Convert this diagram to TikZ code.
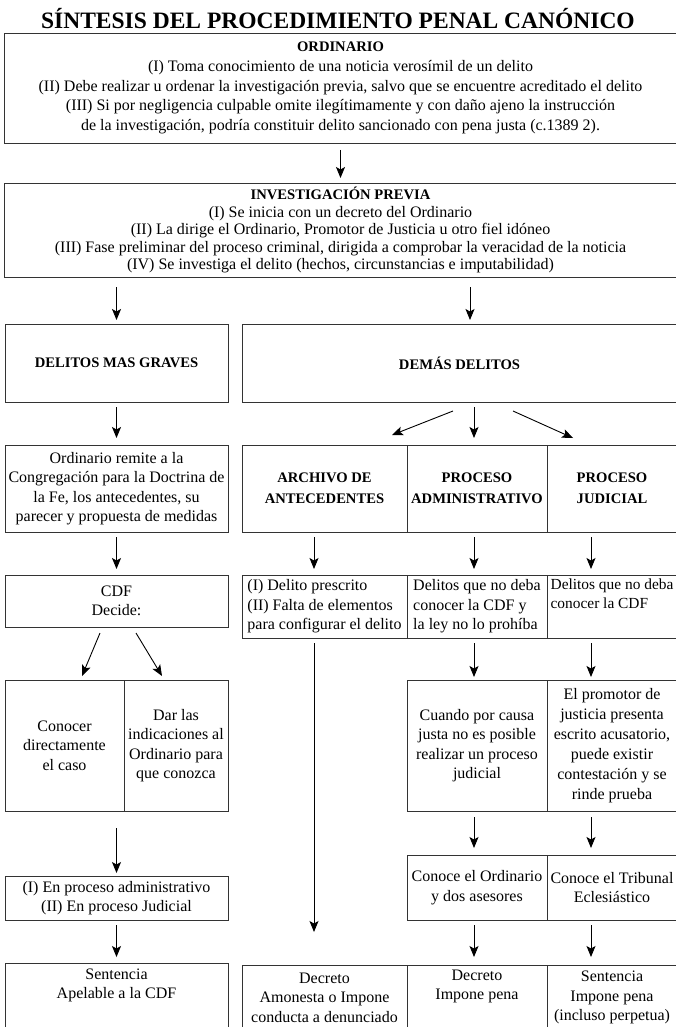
\documentclass[tikz,border=0pt]{standalone}
\usepackage{fontspec}
\setmainfont{Liberation Serif}
\usetikzlibrary{arrows.meta}

\newcommand{\cabeza}[1]{{\fontsize{14.6}{19.5}\selectfont\bfseries #1}}

\begin{document}
\begin{tikzpicture}[
x=1pt, y=-1pt,
every node/.style = {font=\fontsize{16}{19.5}\selectfont},
caja/.style = {draw=black!80, line width=0.9pt, align=center, inner sep=3pt, outer sep=0pt},
caja izq/.style = {caja, align=left, inner xsep=4pt},
negrita/.style = {font=\fontsize{14.6}{21}\selectfont\bfseries},
flecha/.style = {-{Stealth[length=11pt,width=9pt,inset=2.5pt]}, line width=0.9pt, shorten <=5pt, shorten >=6pt}
]
\useasboundingbox (0,0) rectangle (676,1027);

\node (titulo) at (338,19) {\fontsize{23.5}{28}\selectfont\bfseries SÍNTESIS DEL PROCEDIMIENTO PENAL CANÓNICO};

\node[caja, minimum width=673, minimum height=110, font=\fontsize{16}{19.7}\selectfont] (ordinario) at (340.5,88) {\cabeza{ORDINARIO}\\ (I) Toma conocimiento de una noticia verosímil de un delito\\ (II) Debe realizar u ordenar la investigación previa, salvo que se encuentre acreditado el delito\\ (III) Si por negligencia culpable omite ilegítimamente y con daño ajeno la instrucción\\ de la investigación, podría constituir delito sancionado con pena justa (c.1389 2).};

\node[caja, minimum width=673, minimum height=94, font=\fontsize{16}{17.5}\selectfont] (investigacion) at (340.5,230) {\cabeza{INVESTIGACIÓN PREVIA}\\ (I) Se inicia con un decreto del Ordinario\\ (II) La dirige el Ordinario, Promotor de Justicia u otro fiel idóneo\\ (III) Fase preliminar del proceso criminal, dirigida a comprobar la veracidad de la noticia\\ (IV) Se investiga el delito (hechos, circunstancias e imputabilidad)};

\node[caja, negrita, minimum width=223, minimum height=78] (delgraves) at (116.5,363) {DELITOS MAS GRAVES};
\node[caja, negrita, minimum width=435, minimum height=78] (demas) at (459.5,363) {DEMÁS DELITOS};

\node[caja, minimum width=223, minimum height=87] (remite) at (116.5,488.5) {Ordinario remite a la\\ Congregación para la Doctrina de\\ la Fe, los antecedentes, su\\ parecer y propuesta de medidas};
\node[caja, negrita, minimum width=165, minimum height=87] (archivo) at (324.5,488.5) {ARCHIVO DE\\ ANTECEDENTES};
\node[caja, negrita, minimum width=140, minimum height=87] (administrativo) at (477,488.5) {PROCESO\\ ADMINISTRATIVO};
\node[caja, negrita, minimum width=130, minimum height=87] (judicial) at (612,488.5) {PROCESO\\ JUDICIAL};

\node[caja, minimum width=223, minimum height=52] (cdf) at (116.5,601) {CDF\\ Decide:};
\node[caja izq, anchor=west, minimum width=165, minimum height=63] (prescrito) at (242,606.5) {(I) Delito prescrito\\ (II) Falta de elementos\\ para configurar el delito};
\node[caja izq, anchor=west, minimum width=140, minimum height=63] (nodeba) at (407,606.5) {Delitos que no deba\\ conocer la CDF y\\ la ley no lo prohíba};
\node[caja izq, anchor=west, inner xsep=2.5pt, minimum width=130, minimum height=63, font=\fontsize{15.4}{19.5}\selectfont] (nodebacdf) at (547,606.5) {Delitos que no deba\\ conocer la CDF\\ \strut};

\node[caja, minimum width=119, minimum height=131] (conocer) at (64.5,745.5) {Conocer\\ directamente\\ el caso};
\node[caja, minimum width=104, minimum height=131] (indicaciones) at (176,745.5) {Dar las\\ indicaciones al\\ Ordinario para\\ que conozca};
\node[caja, minimum width=140, minimum height=131] (cuando) at (477,745.5) {Cuando por causa\\ justa no es posible\\ realizar un proceso\\ judicial};
\node[caja, minimum width=130, minimum height=131, font=\fontsize{16}{20}\selectfont] (promotor) at (612,745.5) {El promotor de\\ justicia presenta\\ escrito acusatorio,\\ puede existir\\ contestación y se\\ rinde prueba};

\node[caja, minimum width=223, minimum height=44] (enproceso) at (116.5,898) {(I) En proceso administrativo\\ (II) En proceso Judicial};
\node[caja, minimum width=140, minimum height=65] (ordasesores) at (477,887.5) {Conoce el Ordinario\\ y dos asesores};
\node[caja, minimum width=130, minimum height=65] (tribunal) at (612,887.5) {Conoce el Tribunal\\ Eclesiástico};

\node[caja, minimum width=223, minimum height=67] (sentencia) at (116.5,996.5) {Sentencia\\ Apelable a la CDF\\ \strut};
\node[caja, minimum width=165, minimum height=65] (amonesta) at (324.5,997.5) {Decreto\\ Amonesta o Impone\\ conducta a denunciado};
\node[caja, minimum width=140, minimum height=65] (decreto) at (477,997.5) {Decreto\\ Impone pena\\ \strut};
\node[caja, minimum width=130, minimum height=65] (pena) at (612,997.5) {Sentencia\\ Impone pena\\ (incluso perpetua)};

\draw[flecha, shorten <=7pt, shorten >=5pt] (ordinario) -- (investigacion);
\draw[flecha, shorten <=10pt, shorten >=4pt] (delgraves.north |- investigacion.south) -- (delgraves);
\draw[flecha, shorten <=10pt, shorten >=4pt] ([xshift=10.5pt]demas.north |- investigacion.south) -- ([xshift=10.5pt]demas.north);

\draw[flecha, shorten >=7pt] (delgraves) -- (remite);
\draw[flecha, shorten <=0pt, shorten >=0pt] ([xshift=-6.5pt,yshift=-9pt]demas.south) -- ([xshift=67.5pt,yshift=10pt]archivo.north);
\draw[flecha, shorten <=0pt, shorten >=0pt] ([xshift=14.5pt,yshift=-5pt]demas.south) -- ([xshift=-3pt,yshift=7pt]administrativo.north);
\draw[flecha, shorten <=0pt, shorten >=0pt] ([xshift=53.5pt,yshift=-9pt]demas.south) -- ([xshift=-39pt,yshift=7pt]judicial.north);

\draw[flecha] (remite) -- (cdf);
\draw[flecha] ([xshift=-10.5pt]archivo.south) -- ([xshift=-10.5pt]archivo.south |- prescrito.north);
\draw[flecha] ([xshift=-3pt]administrativo.south) -- ([xshift=-3pt]administrativo.south |- nodeba.north);
\draw[flecha] ([xshift=-21pt]judicial.south) -- ([xshift=-21pt]judicial.south |- nodebacdf.north);

\draw[flecha, shorten <=0pt, shorten >=0pt] ([xshift=-16.5pt,yshift=-6pt]cdf.south) -- ([xshift=17.5pt,yshift=4pt]conocer.north);
\draw[flecha, shorten <=0pt, shorten >=0pt] ([xshift=19.5pt,yshift=-6pt]cdf.south) -- ([xshift=-14pt,yshift=4pt]indicaciones.north);
\draw[flecha, shorten >=3pt] ([xshift=-3pt]cuando.north |- nodeba.south) -- ([xshift=-3pt]cuando.north);
\draw[flecha, shorten >=3pt] ([xshift=-21pt]promotor.north |- nodebacdf.south) -- ([xshift=-21pt]promotor.north);
\draw[flecha, shorten >=33pt] ([xshift=-10.5pt]archivo.south |- prescrito.south) -- ([xshift=-10.5pt]amonesta.north);

\draw[flecha, shorten <=17pt, shorten >=3pt] (enproceso.north |- conocer.south) -- (enproceso);
\draw[flecha, shorten <=6pt, shorten >=7pt] ([xshift=-3pt]cuando.south) -- ([xshift=-3pt]ordasesores.north);
\draw[flecha, shorten <=6pt, shorten >=7pt] ([xshift=-21pt]promotor.south) -- ([xshift=-21pt]tribunal.north);

\draw[flecha] (enproceso) -- (sentencia);
\draw[flecha, shorten >=8pt] ([xshift=-3pt]ordasesores.south) -- ([xshift=-3pt]decreto.north);
\draw[flecha, shorten >=8pt] ([xshift=-21pt]tribunal.south) -- ([xshift=-21pt]pena.north);
\end{tikzpicture}
\end{document}
